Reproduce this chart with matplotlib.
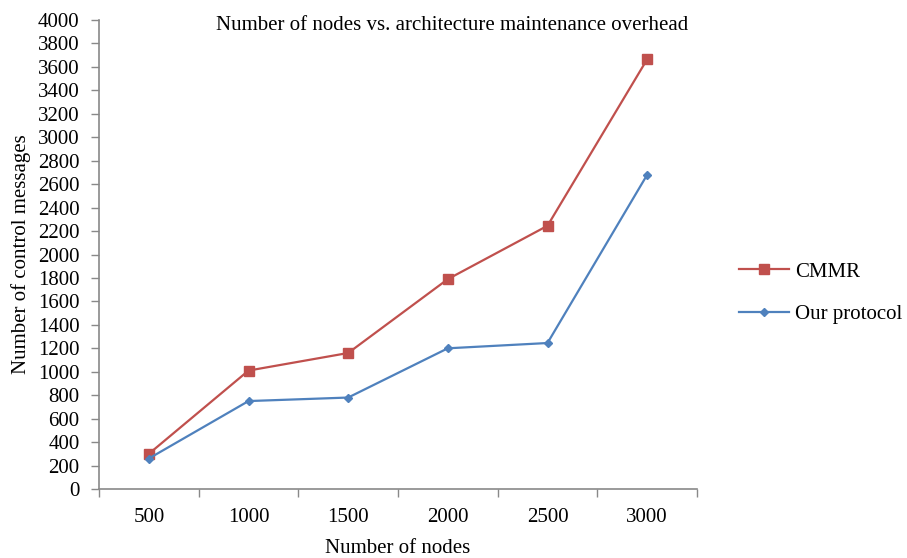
import matplotlib
matplotlib.use("Agg")
import matplotlib.pyplot as plt
import numpy as np

nodes = ["500", "1000", "1500", "2000", "2500", "3000"]
cmmr = [300, 1010, 1160, 1790, 2245, 3665]
ours = [260, 750, 780, 1200, 1245, 2680]
y_ticks = list(range(0, 4001, 200))

plt.rcParams['font.family'] = ['Liberation Serif', 'DejaVu Serif']

fig = plt.figure(figsize=(9.07, 5.58), dpi=100)
ax = fig.add_axes([99 / 907, 69 / 558, 598 / 907, 469 / 558])

x = np.arange(len(nodes)) + 0.5
ax.plot(x, cmmr, color='#C0504D', lw=1.6, marker='s', ms=7, label='CMMR')
ax.plot(x, ours, color='#4F81BD', lw=1.6, marker='D', ms=4.5, label='Our protocol')

ax.set_xlim(0, len(nodes))
ax.set_ylim(0, 4000)
ax.set_xticks(np.arange(len(nodes) + 1))
ax.set_xticklabels([])
ax.set_xticks(x, minor=True)
ax.set_xticklabels(nodes, minor=True, fontsize=15)
ax.tick_params(axis='x', which='minor', length=0, pad=14)
ax.tick_params(axis='x', which='major', length=6, width=1, color='#898989', direction='out')
ax.set_yticks(y_ticks)
ax.set_yticklabels([str(v) for v in y_ticks], fontsize=15)
ax.tick_params(axis='y', length=6, width=1, color='#898989', direction='out', pad=8)

for side in ('top', 'right'):
    ax.spines[side].set_visible(False)
for side in ('left', 'bottom'):
    ax.spines[side].set_color('#898989')
    ax.spines[side].set_linewidth(1.2)

ax.set_xlabel('Number of nodes', fontsize=15, labelpad=8)
ax.set_ylabel('Number of control messages', fontsize=15, labelpad=5)
fig.text(452 / 907, 1 - 25 / 558, 'Number of nodes vs. architecture maintenance overhead',
         ha='center', va='center', fontsize=15)

fig.legend(loc='center left', bbox_to_anchor=(739 / 907, 1 - 293 / 558), frameon=False,
           fontsize=15, handlelength=2.4, handletextpad=0.3, labelspacing=1.1,
           borderpad=0, borderaxespad=0)

fig.savefig('out.png', dpi=100)
